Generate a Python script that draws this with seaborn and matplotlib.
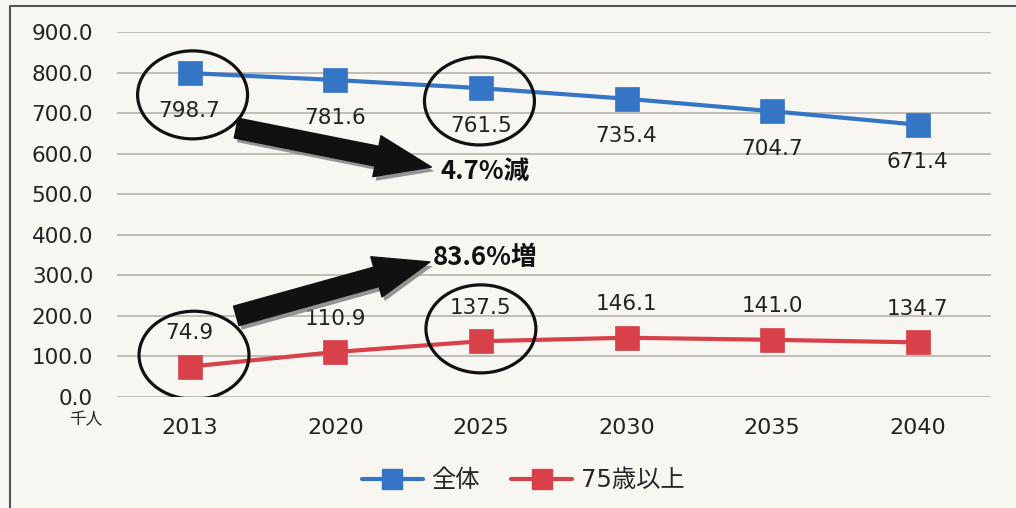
import matplotlib
matplotlib.use("Agg")
import matplotlib.pyplot as plt
import seaborn as sns
import pandas as pd
from matplotlib.patches import Ellipse
from matplotlib.lines import Line2D
import matplotlib.patheffects as pe

years = ["2013", "2020", "2025", "2030", "2035", "2040"]
total = [798.7, 781.6, 761.5, 735.4, 704.7, 671.4]
over75 = [74.9, 110.9, 137.5, 146.1, 141.0, 134.7]
series_names = ["全体", "75歳以上"]
yticks = [0, 100, 200, 300, 400, 500, 600, 700, 800, 900]
unit_label = "千人"
note_down = "4.7%減"
note_up = "83.6%増"

sns.set_theme(style="white")
plt.rcParams["font.family"] = ["DejaVu Sans", "Noto Sans CJK JP"]

bg = "#f8f6f1"
blue = "#3575c5"
red = "#d8404a"
txt = "#222222"

df = pd.DataFrame({
    "year": years * 2,
    "value": total + over75,
    "series": [series_names[0]] * len(years) + [series_names[1]] * len(years),
})

fig = plt.figure(figsize=(10.16, 5.08), dpi=100, facecolor=bg)
ax = fig.add_axes([0.115, 0.2185, 0.86, 0.7185])
ax.set_facecolor(bg)

sns.lineplot(data=df, x="year", y="value", hue="series",
             palette=[blue, red], marker="s", markersize=17,
             markeredgewidth=0.5, linewidth=3, ax=ax, legend=False,
             sort=False)
for ln, c in zip(ax.lines, [blue, red]):
    ln.set_markeredgecolor(c)

ax.set_xlim(-0.5, len(years) - 0.5)
ax.set_ylim(0, 900)
ax.set_yticks(yticks)
ax.set_yticklabels([f"{v:.1f}" for v in yticks])
ax.yaxis.grid(True, color="#b0aea9", linewidth=1.1)
ax.xaxis.grid(False)
for s in ax.spines.values():
    s.set_visible(False)
ax.tick_params(axis="y", length=0, pad=17, labelsize=15.5, labelcolor=txt)
ax.tick_params(axis="x", length=0, pad=15, labelsize=16, labelcolor=txt)
ax.set_xlabel("")
ax.set_ylabel("")

# data labels
for i, v in enumerate(total):
    ax.annotate(f"{v:.1f}", (i, v), xytext=(0, -27), textcoords="offset points",
                ha="center", va="center", fontsize=15.5, color=txt)
for i, v in enumerate(over75):
    ax.annotate(f"{v:.1f}", (i, v), xytext=(0, 24), textcoords="offset points",
                ha="center", va="center", fontsize=15.5, color=txt)

# circles
for (cx, cy) in [(0.02, 745), (1.99, 730), (0.03, 103), (2.0, 168)]:
    ax.add_patch(Ellipse((cx, cy), 0.755, 217, fill=False, ec="#111111",
                         lw=2.3, zorder=5))

# arrows
shadow = [pe.withSimplePatchShadow(offset=(2, -3), shadow_rgbFace="#8a8a8a", alpha=0.9)]
astyle = "simple,head_length=4.0,head_width=3.0,tail_width=1.45"
for tail, head in [((0.32, 663), (1.66, 567)), ((0.32, 200), (1.65, 333))]:
    ax.annotate("", xy=head, xytext=tail,
                arrowprops=dict(arrowstyle=astyle, mutation_scale=10,
                                fc="#111111", ec="#111111",
                                shrinkA=0, shrinkB=0,
                                path_effects=shadow),
                zorder=6)

ax.text(1.72, 555, note_down, fontsize=18.5, fontweight="bold", color="#111111",
        ha="left", va="center", family=["Noto Sans CJK JP"])
ax.text(1.67, 345, note_up, fontsize=18.5, fontweight="bold", color="#111111",
        ha="left", va="center", family=["Noto Sans CJK JP"])

fig.text(86 / 1016, 1 - 420 / 508, unit_label, fontsize=12, color=txt,
         ha="center", va="center", family=["Noto Sans CJK JP"])

# legend
handles = [Line2D([], [], color=blue, lw=3, marker="s", markersize=14),
           Line2D([], [], color=red, lw=3, marker="s", markersize=14)]
fig.legend(handles, series_names, loc="center", bbox_to_anchor=(0.515, 0.055),
           ncol=2, frameon=False, handlelength=2.5,
           columnspacing=1.3, handletextpad=0.35,
           prop={"family": ["DejaVu Sans", "Noto Sans CJK JP"], "size": 17.5})

# outer border
fig.add_artist(Line2D([0.0098, 0.0098, 1.0], [0.0, 0.988, 0.988],
                      transform=fig.transFigure, color="#555555", lw=1.5))

fig.savefig("out.png", dpi=100, facecolor=bg)
